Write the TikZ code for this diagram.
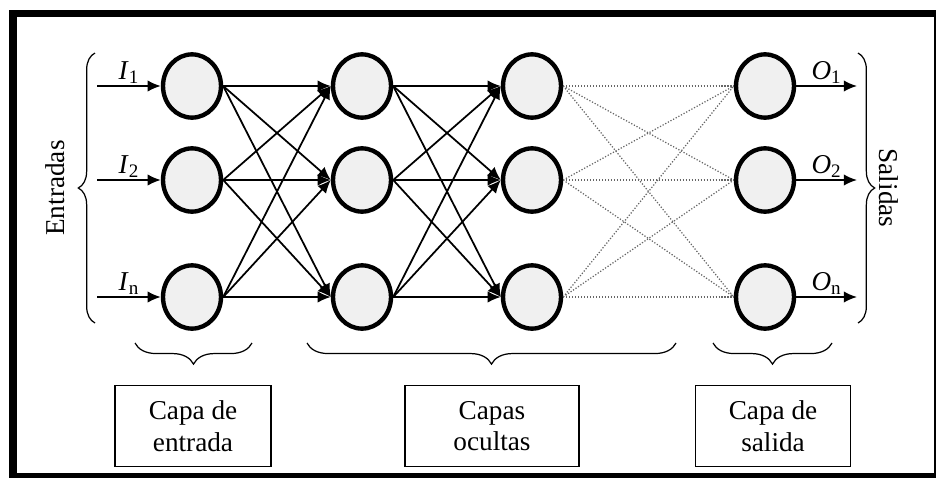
\documentclass[tikz,border=0pt]{standalone}
\usepackage{fontspec}
\setmainfont{Liberation Serif}
\usetikzlibrary{arrows.meta, shapes.geometric, decorations.pathreplacing}
\begin{document}
\begin{tikzpicture}[x=0.02cm, y=-0.02cm, font={\fontsize{15.5}{18}\selectfont}, >={Latex[length=7.5pt,width=6.5pt]}]
	\useasboundingbox (0,0) rectangle (936,477);
	\tikzstyle{neuron} = [ draw, ellipse, line width=2.5pt, fill=black!6, inner sep=0pt, minimum width=33pt, minimum height=36pt ];
	\tikzstyle{layer} = [ draw, rectangle, line width=0.8pt, align=center, minimum height=46pt ];
	\tikzstyle{point} = [ ->, line width=1pt ];
	\tikzstyle{weak} = [ densely dotted, black!60, line width=0.7pt ];
	\tikzstyle{group} = [ decorate, decoration={brace, amplitude=9.5pt}, line width=0.7pt ];
	\tikzstyle{info} = [ inner sep=1pt ];

	\draw[line width=4.3pt] (13,13.5) rectangle (938,477);

	\def \cols {192, 362, 532, 765}
	\def \rows {86, 180, 297}

	\foreach \x [count=\xi] in \cols {
		\foreach \y [count=\yi] in \rows {
			\node[neuron] (\xi\yi) at (\x,\y) {};
		}
	}

	\foreach \y [count=\yi] in \rows {
		\coordinate (i\yi) at (97,\y);
		\coordinate (o\yi) at (857,\y);
	}

	\foreach \i in {1,2,3} {
		\foreach \j in {1,2,3} {
			\draw[point] (1\i.east) -- (2\j.west);
			\draw[point] (2\i.east) -- (3\j.west);
			\draw[weak] (3\i.east) -- (4\j.west);
		}
	}

	\draw[point] (i1) -- node[above, info]{\textit{I}\textsubscript{1}} (11);
	\draw[point] (i2) -- node[above, info]{\textit{I}\textsubscript{2}} (12);
	\draw[point] (i3) -- node[above, info]{\textit{I}\textsubscript{n}} (13);
	\draw[point] (41) -- node[above, info]{\textit{O}\textsubscript{1}} (o1);
	\draw[point] (42) -- node[above, info]{\textit{O}\textsubscript{2}} (o2);
	\draw[point] (43) -- node[above, info]{\textit{O}\textsubscript{n}} (o3);

	\draw[group] (95,323) -- (95,53);
	\draw[group] (858,53) -- (858,323);
	\node[rotate=90] (inputs) at (55,188) {Entradas};
	\node[rotate=-90] (outputs) at (889,188) {Salidas};

	\draw[group, decoration={amplitude=12pt}] (252,343) -- (135,343);
	\draw[group, decoration={amplitude=12pt}] (676,343) -- (307,343);
	\draw[group, decoration={amplitude=12pt}] (832,343) -- (713,343);

	\node[layer, minimum width=89pt] (inbox) at (193,426) {Capa de\\entrada};
	\node[layer, minimum width=99pt] (hidbox) at (492,426) {Capas\\ocultas};
	\node[layer, minimum width=88pt] (outbox) at (773,426) {Capa de\\salida};
\end{tikzpicture}
\end{document}
